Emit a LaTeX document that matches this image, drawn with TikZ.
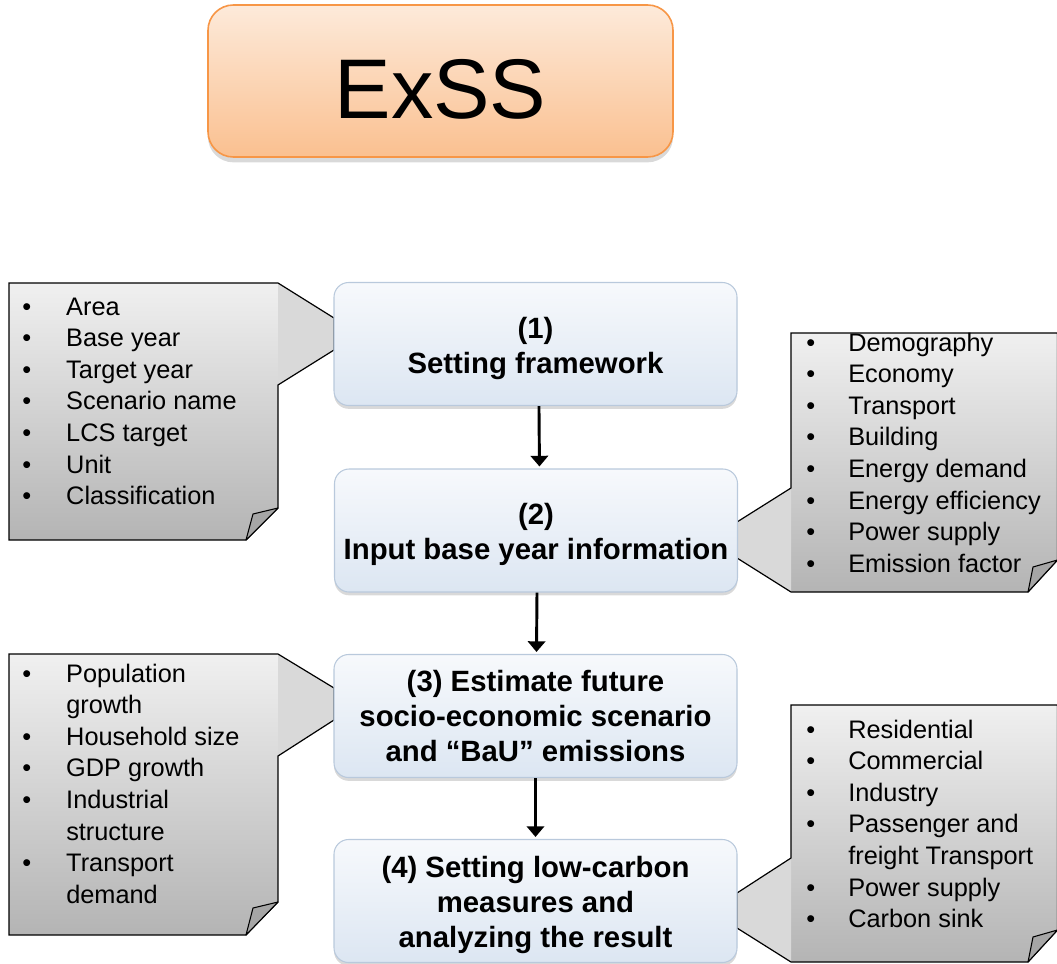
\documentclass[tikz,border=0pt]{standalone}
\usepackage{fontspec}
\setmainfont{Liberation Sans}
\usetikzlibrary{arrows.meta,shadows}
\definecolor{exsstop}{HTML}{FDEADA}
\definecolor{exssbot}{HTML}{FAC090}
\definecolor{exssline}{HTML}{F79646}
\definecolor{boxtop}{HTML}{F7F9FC}
\definecolor{boxbot}{HTML}{DCE6F2}
\definecolor{boxline}{HTML}{B9C9DC}
\definecolor{calltop}{HTML}{F0F0F0}
\definecolor{callbot}{HTML}{B4B4B4}
\definecolor{ptrfill}{HTML}{D9D9D9}
\definecolor{foldfill}{HTML}{A6A6A6}
\newcommand{\lowstrut}{\rule{0pt}{22pt}}
\begin{document}
\begin{tikzpicture}[x=0.75pt,y=-0.75pt,
  exssbox/.style={draw=exssline, line width=1.2pt, rounded corners=19pt,
    top color=exsstop, bottom color=exssbot,
    minimum width=348.75pt, minimum height=114pt,
    font=\fontsize{63.5}{70}\selectfont, text height=56pt, text depth=0pt,
    drop shadow={shadow xshift=0pt, shadow yshift=-4pt, opacity=0.3}},
  procbox/.style={draw=boxline, line width=0.8pt, rounded corners=11pt,
    top color=boxtop, bottom color=boxbot,
    minimum width=302.25pt, minimum height=92.25pt, align=center,
    font=\fontsize{22}{26.3}\selectfont\bfseries,
    drop shadow={shadow xshift=0pt, shadow yshift=-2.5pt, opacity=0.3}},
  listtext/.style={anchor=base west, inner sep=0pt, font=\fontsize{19}{23.7}\selectfont},
  callshade/.style={top color=calltop, bottom color=callbot},
  ptr/.style={fill=ptrfill},
  outline/.style={draw=black, line width=0.9pt, line join=miter},
  fold/.style={fill=foldfill, draw=black, line width=0.8pt, line join=round},
  arr/.style={draw=black, line width=2.2pt, -{Triangle[width=13pt,length=8pt]}}
]
\useasboundingbox (0,0) rectangle (1057,964);

% ---------- callout left 1 ----------
\shade[callshade] (9,283) -- (278,283) -- (278,508) -- (246,540) -- (9,540) -- cycle;
\fill[ptr] (278,283) -- (334,318) -- (334,350) -- (278,385) -- cycle;
\path[outline] (9,283) -- (278,283) -- (334,318) -- (334,350) -- (278,385) -- (278,508) -- (246,540) -- (9,540) -- cycle;
\path[fold] (278,508) -- (253,514) -- (246,540) -- cycle;
\node[listtext] (l1) at (22,315) {\begin{tabular}[t]{@{}p{33pt}@{}l@{}}
\textbullet & Area\\
\textbullet & Base year\\
\textbullet & Target year\\
\textbullet & Scenario name\\
\textbullet & LCS target\\
\textbullet & Unit\\
\textbullet & Classification
\end{tabular}};

% ---------- callout right 1 ----------
\shade[callshade] (791,333) -- (1057.5,333) -- (1057.5,560) -- (1028,592) -- (791,592) -- cycle;
\fill[ptr] (791,488) -- (737,522) -- (737,558) -- (791,592) -- cycle;
\path[outline] (791,333) -- (1057.5,333) -- (1057.5,560) -- (1028,592) -- (791,592) -- (737,558) -- (737,522) -- (791,488) -- cycle;
\path[fold] (1057.5,560) -- (1033,567) -- (1028,592) -- cycle;
\node[listtext] (r1) at (806,351) {\begin{tabular}[t]{@{}p{31.5pt}@{}l@{}}
\textbullet & Demography\\
\textbullet & Economy\\
\textbullet & Transport\\
\textbullet & Building\\
\textbullet & Energy demand\\
\textbullet & Energy efficiency\\
\textbullet & Power supply\\
\textbullet & Emission factor
\end{tabular}};

% ---------- callout left 2 ----------
\shade[callshade] (9,654) -- (278,654) -- (278,902) -- (246,935) -- (9,935) -- cycle;
\fill[ptr] (278,654) -- (334,688) -- (334,720) -- (278,756) -- cycle;
\path[outline] (9,654) -- (278,654) -- (334,688) -- (334,720) -- (278,756) -- (278,902) -- (246,935) -- (9,935) -- cycle;
\path[fold] (278,902) -- (253,908) -- (246,935) -- cycle;
\node[listtext] (l2) at (22,682) {\begin{tabular}[t]{@{}p{33pt}@{}l@{}}
\textbullet & Population\\
 & growth\\
\textbullet & Household size\\
\textbullet & GDP growth\\
\textbullet & Industrial\\
 & structure\\
\textbullet & Transport\\
 & demand
\end{tabular}};

% ---------- callout right 2 ----------
\shade[callshade] (791,705) -- (1057.5,705) -- (1057.5,930) -- (1028,962) -- (791,962) -- cycle;
\fill[ptr] (791,858) -- (737,893) -- (737,928) -- (791,962) -- cycle;
\path[outline] (791,705) -- (1057.5,705) -- (1057.5,930) -- (1028,962) -- (791,962) -- (737,928) -- (737,893) -- (791,858) -- cycle;
\path[fold] (1057.5,930) -- (1033,937) -- (1028,962) -- cycle;
\node[listtext] (r2) at (806,738) {\begin{tabular}[t]{@{}p{31.5pt}@{}l@{}}
\textbullet & Residential\\
\textbullet & Commercial\\
\textbullet & Industry\\
\textbullet & Passenger and\\
 & freight Transport\\
\textbullet & Power supply\\
\textbullet & Carbon sink
\end{tabular}};

% ---------- title ----------
\node[exssbox] (exss) at (440.5,81) {ExSS};

% ---------- process boxes ----------
\node[procbox] (b1) at (535.5,344) {\lowstrut(1)\\Setting framework};
\node[procbox] (b2) at (536,530.5) {\lowstrut(2)\\Input base year information};
\node[procbox] (b3) at (535.5,716) {(3) Estimate future\\socio-economic scenario\\and “BaU” emissions};
\node[procbox] (b4) at (535.5,901) {\lowstrut(4) Setting low-carbon\\measures and\\analyzing the result};

% ---------- connectors ----------
\draw[arr] ([xshift=2.6pt]b1.south) -- ([xshift=2.6pt,yshift=1.5pt]b2.north);
\draw[arr] ([xshift=0.75pt]b2.south) -- ([xshift=0.75pt,yshift=1.5pt]b3.north);
\draw[arr] (b3.south) -- ([yshift=1.5pt]b4.north);
\end{tikzpicture}
\end{document}
